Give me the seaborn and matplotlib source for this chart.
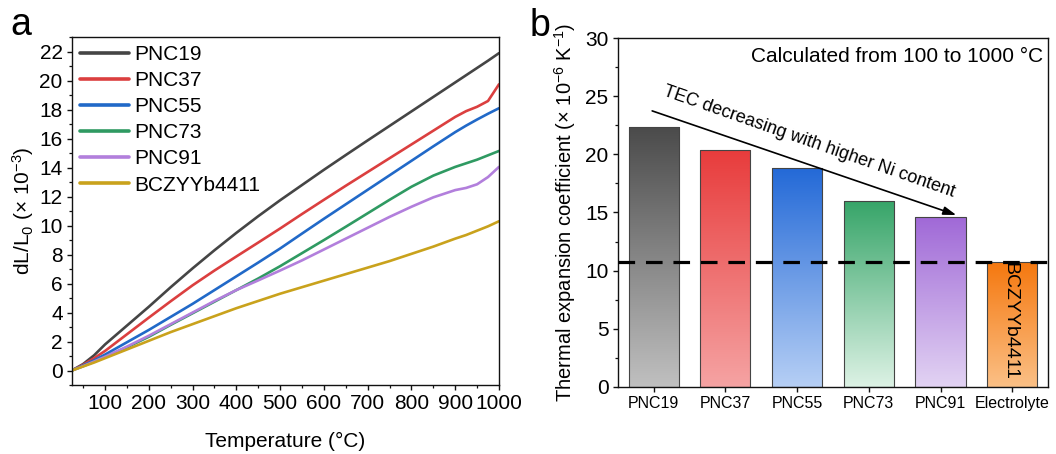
import numpy as np
import pandas as pd
import matplotlib
matplotlib.use("Agg")
import matplotlib.pyplot as plt
from matplotlib.colors import to_rgb
from matplotlib.ticker import MultipleLocator
import seaborn as sns

# ---- dilatometry curves: dL/L0 (x 10^-3) against temperature (deg C) ----
temperature = [24, 50, 75, 100, 150, 200, 250, 300, 350, 400, 450, 500,
               550, 600, 650, 700, 750, 800, 850, 900, 925, 950, 975, 1000]
pnc19 = [0, 0.45, 1.05, 1.8, 3.1, 4.4, 5.75, 7.05, 8.3, 9.5, 10.65, 11.75,
         12.8, 13.85, 14.87, 15.88, 16.88, 17.88, 18.88, 19.88, 20.38, 20.88, 21.38, 21.9]
pnc37 = [0, 0.4, 0.85, 1.35, 2.5, 3.65, 4.78, 5.88, 6.9, 7.87, 8.83, 9.8,
         10.8, 11.78, 12.75, 13.7, 14.65, 15.6, 16.55, 17.5, 17.9, 18.2, 18.6, 19.75]
pnc55 = [0, 0.35, 0.7, 1.1, 1.95, 2.8, 3.7, 4.6, 5.55, 6.5, 7.45, 8.42,
         9.45, 10.47, 11.47, 12.47, 13.47, 14.47, 15.47, 16.45, 16.9, 17.32, 17.72, 18.1]
pnc73 = [0, 0.3, 0.62, 0.95, 1.6, 2.33, 3.15, 3.95, 4.75, 5.55, 6.35, 7.2,
         8.1, 9.0, 9.92, 10.85, 11.78, 12.68, 13.45, 14.05, 14.3, 14.55, 14.85, 15.15]
pnc91 = [0, 0.3, 0.62, 0.95, 1.65, 2.4, 3.2, 4.0, 4.8, 5.55, 6.22, 6.9,
         7.6, 8.35, 9.1, 9.85, 10.6, 11.3, 11.95, 12.45, 12.6, 12.85, 13.35, 14.05]
bczyyb4411 = [0, 0.28, 0.55, 0.85, 1.45, 2.05, 2.65, 3.2, 3.75, 4.3, 4.8, 5.3,
              5.75, 6.2, 6.65, 7.1, 7.55, 8.05, 8.55, 9.1, 9.35, 9.65, 9.95, 10.3]
curve_names = ["PNC19", "PNC37", "PNC55", "PNC73", "PNC91", "BCZYYb4411"]
curve_colors = ["#454545", "#db3f3f", "#2169c8", "#2f9a62", "#b27fdc", "#c9a21c"]

# ---- thermal expansion coefficients (x 10^-6 K^-1), 100-1000 deg C ----
tec_labels = ["PNC19", "PNC37", "PNC55", "PNC73", "PNC91", "Electrolyte"]
tec_values = [22.34, 20.38, 18.86, 15.99, 14.58, 10.72]
bar_top_colors = ["#4b4b4b", "#e83c3c", "#2369d7", "#37a569", "#a069d7", "#f5780f"]
bar_bottom_colors = ["#c0c0c0", "#f5a3a3", "#b6cff5", "#ddf2e5", "#e2d3f3", "#fbc086"]

sns.set_theme(style="ticks")
plt.rcParams["font.family"] = ["Liberation Sans", "DejaVu Sans"]
plt.rcParams["mathtext.fontset"] = "custom"
plt.rcParams["mathtext.rm"] = "Liberation Sans"
plt.rcParams["mathtext.it"] = "Liberation Sans:italic"
plt.rcParams["text.color"] = "black"
plt.rcParams["axes.labelcolor"] = "black"
plt.rcParams["axes.linewidth"] = 1.0
plt.rcParams["axes.edgecolor"] = "#111111"
for axis in ("xtick", "ytick"):
    plt.rcParams[f"{axis}.direction"] = "out"
    plt.rcParams[f"{axis}.major.size"] = 3.6
    plt.rcParams[f"{axis}.minor.size"] = 2.2
    plt.rcParams[f"{axis}.major.width"] = 1.0
    plt.rcParams[f"{axis}.minor.width"] = 0.9
    plt.rcParams[f"{axis}.color"] = "#111111"
    plt.rcParams[f"{axis}.labelcolor"] = "black"

fig = plt.figure(figsize=(10.56, 4.54), dpi=100)
ax1 = fig.add_axes([0.068, 0.152, 0.4045, 0.766])
ax2 = fig.add_axes([0.585, 0.148, 0.4075, 0.768])

# ---- panel a: expansion curves ----
curves = pd.DataFrame({
    "Temperature": temperature * len(curve_names),
    "dL": pnc19 + pnc37 + pnc55 + pnc73 + pnc91 + bczyyb4411,
    "Sample": [n for n in curve_names for _ in temperature],
})
sns.lineplot(data=curves, x="Temperature", y="dL", hue="Sample",
             hue_order=curve_names, palette=curve_colors, estimator=None,
             linewidth=1.9, ax=ax1)
ax1.set_xlim(24, 1000)
ax1.set_ylim(-1, 23)
ax1.xaxis.set_major_locator(MultipleLocator(100))
ax1.xaxis.set_minor_locator(MultipleLocator(50))
ax1.yaxis.set_major_locator(MultipleLocator(2))
ax1.yaxis.set_minor_locator(MultipleLocator(1))
ax1.tick_params(axis="both", which="major", labelsize=15, pad=3)
ax1.set_xlabel("Temperature (\u00b0C)", fontsize=15)
ax1.set_ylabel("dL/L$_0$ (\u00d7 10$^{-3}$)", fontsize=15)
ax1.xaxis.set_label_coords(0.5, -0.135)
ax1.yaxis.set_label_coords(-0.085, 0.5)
leg = ax1.legend(frameon=False, loc="upper left", fontsize=15,
                 handlelength=2.35, handletextpad=0.25, labelspacing=0.34,
                 borderaxespad=0.1, borderpad=0.28)
for line in leg.get_lines():
    line.set_linewidth(2.6)

# ---- panel b: TEC bars with vertical colour gradients ----
sns.barplot(x=tec_labels, y=tec_values, hue=tec_labels, palette=bar_top_colors,
            legend=False, width=0.7, edgecolor="#444444", linewidth=0.8,
            saturation=1, ax=ax2)
for patch, top, bottom in zip(ax2.patches, bar_top_colors, bar_bottom_colors):
    x0, y0 = patch.get_x(), patch.get_y()
    w, h = patch.get_width(), patch.get_height()
    shade = np.linspace(to_rgb(top), to_rgb(bottom), 256)[:, None, :]
    img = ax2.imshow(shade, extent=(x0, x0 + w, y0, y0 + h), origin="upper",
                     aspect="auto", interpolation="bilinear",
                     zorder=patch.get_zorder() - 0.1)
    img.set_clip_path(patch)
    patch.set_facecolor("none")

ax2.axhline(tec_values[-1], color="black", linewidth=2.3,
            dashes=(5.2, 3.4), zorder=5)
ax2.set_xlim(-0.5, 5.5)
ax2.set_ylim(0, 30)
ax2.yaxis.set_major_locator(MultipleLocator(5))
ax2.yaxis.set_minor_locator(MultipleLocator(2.5))
ax2.tick_params(axis="y", which="major", labelsize=15, pad=3)
ax2.tick_params(axis="x", which="major", labelsize=11.5, pad=3)
ax2.set_xlabel("")
ax2.set_ylabel("Thermal expansion coefficient (\u00d7 10$^{-6}$ K$^{-1}$)",
               fontsize=14.5)
ax2.yaxis.set_label_coords(-0.093, 0.5)

ax2.text(0.988, 0.946, "Calculated from 100 to 1000 \u00b0C", transform=ax2.transAxes,
         ha="right", va="center", fontsize=15)
ax2.annotate("", xy=(4.22, 14.78), xytext=(-0.02, 23.74),
             arrowprops=dict(arrowstyle="-|>,head_length=0.55,head_width=0.18",
                             color="black", linewidth=1.2, mutation_scale=14,
                             shrinkA=0, shrinkB=0))
ax2.text(2.17, 21.05, "TEC decreasing with higher Ni content", fontsize=13,
         rotation=-19.3, rotation_mode="anchor", ha="center", va="center")
ax2.text(4.97, 5.62, "BCZYYb4411", fontsize=14, rotation=-90,
         ha="center", va="center", zorder=6)

fig.text(10 / 1056, 1 - 35 / 454, "a", fontsize=27, va="baseline")
fig.text(530 / 1056, 1 - 36 / 454, "b", fontsize=27, va="baseline")

fig.savefig("out.png", dpi=100)
